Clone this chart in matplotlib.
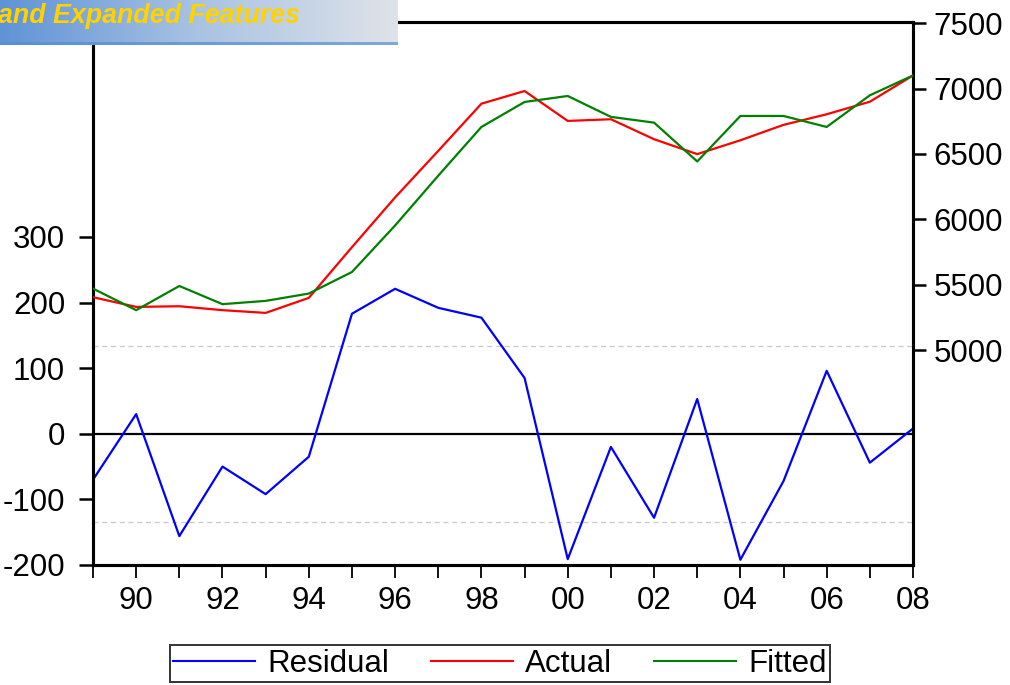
import numpy as np
import matplotlib
matplotlib.use("Agg")
import matplotlib.pyplot as plt
from matplotlib.colors import LinearSegmentedColormap

plt.rcParams['font.family'] = ['Liberation Sans', 'DejaVu Sans']

# Annual observations, 1989-2008
years = list(range(1989, 2009))
actual = [5404, 5330, 5335, 5305, 5284, 5399, 5787, 6168, 6524, 6885,
          6982, 6753, 6766, 6613, 6499, 6605, 6723, 6804, 6900, 7101]
fitted = [5470, 5305, 5490, 5351, 5376, 5432, 5597, 5953, 6334, 6707,
          6898, 6944, 6784, 6740, 6443, 6791, 6791, 6707, 6949, 7101]
residual = [-70, 30, -156, -50, -92, -35, 183, 221, 192, 177,
            85, -191, -20, -128, 53, -192, -72, 96, -44, 8]
std_band = 134

left_ticks = [-200, -100, 0, 100, 200, 300]
right_ticks = [5000, 5500, 6000, 6500, 7000, 7500]
xtick_years = list(range(1990, 2009, 2))
xtick_labels = ['90', '92', '94', '96', '98', '00', '02', '04', '06', '08']
series_names = ['Residual', 'Actual', 'Fitted']
banner_text = 'and Expanded Features'

W, H = 1010, 685
fig = plt.figure(figsize=(W / 100, H / 100), dpi=100)

ax = fig.add_axes([93 / W, 1 - 565 / H, (913 - 93) / W, (565 - 22) / H])
ax2 = ax.twinx()

fs = 22.5
lw = 1.6

# residuals on the left scale
l_res, = ax.plot(years, residual, color='#0000ff', lw=lw, zorder=3)
ax.axhline(0, color='black', lw=1.6, zorder=2)
for b in (std_band, -std_band):
    ax.axhline(b, color='#c8c8c8', lw=0.9, ls=(0, (4, 3)), zorder=1)
ax.set_ylim(-200, 627.7)
ax.set_yticks(left_ticks)
ax.set_yticklabels([str(v) for v in left_ticks], fontsize=fs)

# actual and fitted on the right scale
l_act, = ax2.plot(years, actual, color='#ff0000', lw=lw, zorder=3)
l_fit, = ax2.plot(years, fitted, color='#008000', lw=lw, zorder=3)
ax2.set_ylim(3355, 7510)
ax2.set_yticks(right_ticks)
ax2.set_yticklabels([str(v) for v in right_ticks], fontsize=fs)

ax.set_xlim(1989, 2008)
ax.set_xticks(years, minor=True)
ax.set_xticks(xtick_years)
ax.set_xticklabels(xtick_labels, fontsize=fs)

for a in (ax, ax2):
    for s in a.spines.values():
        s.set_linewidth(2.2)
        s.set_color('black')
ax.tick_params(axis='y', which='major', direction='out', length=10, width=1.8, pad=10)
ax2.tick_params(axis='y', which='major', direction='out', length=9, width=1.8, pad=6)
ax.tick_params(axis='x', which='both', direction='out', length=9, width=1.3, pad=6)
ax.tick_params(axis='x', which='minor', labelbottom=False)

# legend strip at the bottom
leg = fig.legend([l_res, l_act, l_fit], series_names, loc='center',
                 bbox_to_anchor=(500 / W, 1 - 663.5 / H), ncol=3, fontsize=fs,
                 frameon=True, fancybox=False, handlelength=2.6,
                 handletextpad=0.4, columnspacing=1.35, borderpad=0.1,
                 borderaxespad=0)
leg.get_frame().set_edgecolor('black')
leg.get_frame().set_linewidth(1.4)
for line in leg.get_lines():
    line.set_linewidth(1.5)

# title banner in the top-left corner
bax = fig.add_axes([0, 1 - 42 / H, 398 / W, 42 / H])
cmap = LinearSegmentedColormap.from_list('banner', ['#5f93d7', '#a9c3e2', '#dfe3e9'])
grad = np.linspace(0, 1, 256).reshape(1, -1)
bax.imshow(grad, aspect='auto', cmap=cmap, extent=[0, 1, 0, 1])
bax.set_xlim(0, 1)
bax.set_ylim(0, 1)
bax.axis('off')
eax = fig.add_axes([0, 1 - 45 / H, 398 / W, 3 / H])
eax.imshow(np.linspace(0, 1, 256).reshape(1, -1), aspect='auto',
           cmap=LinearSegmentedColormap.from_list('edge', ['#5a8fd3', '#7ea8de']),
           extent=[0, 1, 0, 1])
eax.axis('off')
fig.text(-2 / W, 1 - 23 / H, banner_text, color='#ffd200', fontsize=19.3,
         fontweight='bold', fontstyle='italic', ha='left', va='baseline')

fig.savefig('out.png', dpi=100)
